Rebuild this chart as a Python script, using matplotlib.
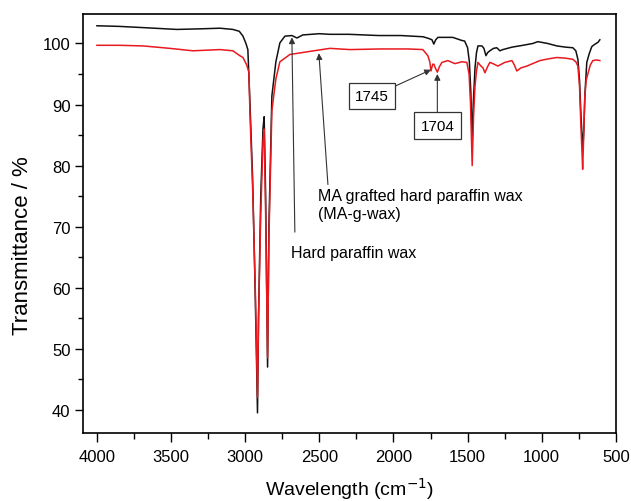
import matplotlib
matplotlib.use("Agg")
import matplotlib.pyplot as plt
from matplotlib.ticker import MultipleLocator

plt.rcParams["font.family"] = ["Liberation Sans", "DejaVu Sans"]

# hard paraffin wax (black)
wax_wn = [4000, 3850, 3690, 3460, 3300, 3170, 3083, 3040, 3015, 2995, 2982, 2968,
          2950, 2935, 2925, 2917, 2910, 2895, 2880, 2872, 2862, 2849, 2840, 2820,
          2793, 2766, 2732, 2685, 2651, 2611, 2500, 2430, 2300, 2100, 1950, 1800,
          1760, 1740, 1728, 1715, 1700, 1666, 1600, 1540, 1520, 1500, 1488, 1478,
          1469, 1462, 1450, 1440, 1430, 1403, 1390, 1376, 1365, 1350, 1325, 1303,
          1282, 1262, 1200, 1127, 1060, 1026, 960, 898, 840, 790, 770, 756, 745,
          735, 728, 722, 716, 708, 696, 680, 662, 640, 620, 608]
wax_t = [102.9, 102.8, 102.6, 102.3, 102.4, 102.5, 102.3, 102.0, 101.2, 100.0, 99.0, 90.4,
         78, 62, 50, 39.5, 55, 75, 86, 88, 75, 47, 70, 91.4,
         97, 100.1, 101.2, 101.3, 100.9, 101.4, 101.6, 101.5, 101.5, 101.3, 101.3, 101.1,
         100.8, 100.6, 99.9, 100.6, 101.0, 101.0, 101.0, 100.5, 100.4, 99.3, 97, 92,
         83.5, 90, 96, 98.5, 99.6, 99.6, 99.2, 98.0, 98.5, 98.8, 99.2, 99.3,
         98.8, 99.0, 99.4, 99.7, 100.0, 100.3, 100.0, 99.6, 99.4, 99.3, 98.8, 97.4, 94,
         88, 85, 83, 86, 92, 96.9, 98.3, 99.5, 99.9, 100.2, 100.6]

# MA grafted hard paraffin wax (red)
mag_wn = [4000, 3850, 3690, 3508, 3353, 3170, 3083, 3036, 3015, 2990, 2975, 2968,
          2948, 2930, 2917, 2910, 2895, 2880, 2872, 2862, 2849, 2840, 2820, 2793,
          2766, 2698, 2564, 2429, 2294, 2091, 1900, 1802, 1768, 1755, 1747, 1735,
          1727, 1718, 1704, 1690, 1673, 1633, 1586, 1538, 1505, 1490, 1480, 1469,
          1460, 1450, 1440, 1430, 1410, 1396, 1383, 1365, 1350, 1320, 1296, 1249,
          1201, 1185, 1168, 1140, 1100, 1012, 950, 898, 840, 790, 770, 756, 745,
          735, 728, 724, 718, 710, 700, 689, 672, 655, 630, 608]
mag_t = [99.7, 99.7, 99.6, 99.2, 98.8, 99.0, 98.8, 98.0, 97.7, 96.5, 95.3, 88.7,
         75, 58, 42, 55, 72, 84, 86, 72, 48.5, 68, 89, 94.2,
         97, 98.2, 98.7, 99.2, 99.0, 99.1, 99.1, 99.0, 98.0, 97, 95.5, 96.6,
         96.6, 96, 95.3, 96.2, 96.9, 97.2, 96.7, 97.0, 96.9, 95, 90, 80,
         88, 93, 95.5, 96.9, 96.3, 96.0, 95.2, 96.2, 96.9, 96.6, 96.3, 96.9,
         97.2, 96.5, 95.5, 96.0, 96.3, 97.2, 97.5, 97.7, 97.6, 97.4, 97.0, 96.3, 93,
         86, 82, 79.4, 84, 91, 94, 95, 96.5, 97.2, 97.3, 97.2]

fig = plt.figure(figsize=(6.31, 5.02), dpi=100)
ax = fig.add_axes([0.1315, 0.1355, 0.8445, 0.8355])

ax.plot(wax_wn, wax_t, color="#111111", lw=1.1)
ax.plot(mag_wn, mag_t, color="#e8191f", lw=1.1)

ax.set_xlim(4094, 500)
ax.set_ylim(36.2, 104.9)
ax.xaxis.set_major_locator(MultipleLocator(500))
ax.xaxis.set_minor_locator(MultipleLocator(250))
ax.yaxis.set_major_locator(MultipleLocator(10))
ax.yaxis.set_minor_locator(MultipleLocator(5))
ax.tick_params(which="both", direction="out", top=False, right=False,
               labelsize=12, width=1)
ax.tick_params(axis="x", which="major", length=6.5, pad=5)
ax.tick_params(axis="x", which="minor", length=4.3)
ax.tick_params(axis="y", which="major", length=5.5, pad=3.5)
ax.tick_params(axis="y", which="minor", length=3.5)
for s in ax.spines.values():
    s.set_linewidth(1.2)

ax.set_xlabel("Wavelength (cm$^{-1}$)", fontsize=14, labelpad=8)
ax.set_ylabel("Transmittance / %", fontsize=16)
ax.yaxis.set_label_coords(-0.094, 0.448)

arrow = dict(arrowstyle="-|>", color="#333333", lw=0.8, mutation_scale=9,
             shrinkA=0, shrinkB=0)
box = dict(boxstyle="square,pad=0.42", fc="white", ec="#333333", lw=0.9)

ax.annotate("1745", xy=(1747, 95.7), xytext=(2145, 91.4), fontsize=11,
            ha="center", va="center", bbox=box,
            arrowprops=dict(arrow, relpos=(1, 1)))
ax.annotate("1704", xy=(1704, 95.0), xytext=(1704, 86.5), fontsize=11,
            ha="center", va="center", bbox=box,
            arrowprops=dict(arrow, relpos=(0.5, 1)))

ax.annotate("", xy=(2503, 98.4), xytext=(2442, 76.9), arrowprops=arrow)
ax.text(2510, 76.3, "MA grafted hard paraffin wax\n(MA-g-wax)", fontsize=11.5,
        ha="left", va="top", linespacing=1.2)

ax.annotate("", xy=(2685, 101.0), xytext=(2665, 69.1), arrowprops=arrow)
ax.text(2692, 65.8, "Hard paraffin wax", fontsize=11.5, ha="left", va="center")

fig.savefig("out.png", dpi=100)
